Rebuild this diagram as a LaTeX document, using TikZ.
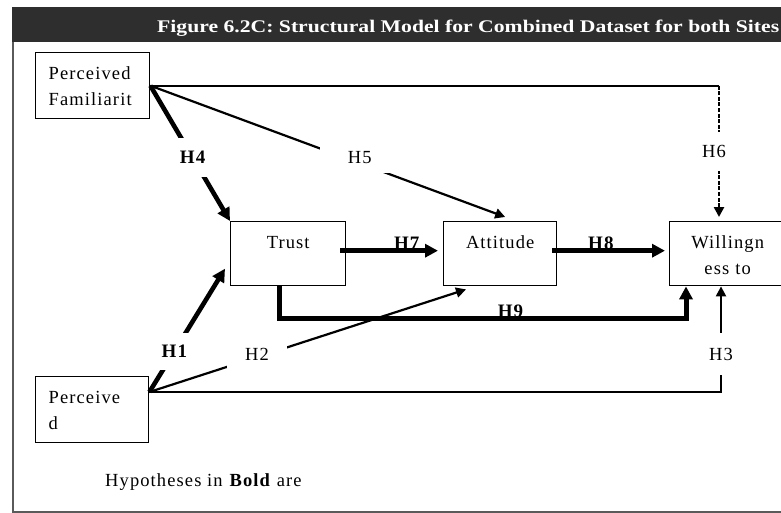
\documentclass[tikz,border=0pt]{standalone}
\usepackage{graphicx}
\usepackage{fontspec}
\setmainfont{Liberation Serif}[LetterSpace=6]
\newfontfamily\headfont{Liberation Serif}
\usetikzlibrary{arrows.meta}
\definecolor{barcol}{HTML}{2E2E2E}
\definecolor{framecol}{HTML}{5A5A5A}
\hyphenpenalty=10000
\exhyphenpenalty=10000

\begin{document}
\begin{tikzpicture}[x=1pt,y=-1pt,
  box/.style={draw, line width=1.4pt, anchor=north west, inner ysep=0pt,
    text height=27pt, font=\fontsize{18.5}{26}\selectfont},
  leftbox/.style={box, align=left, inner xsep=13pt, text width=#1},
  midbox/.style={box, align=center, inner xsep=4pt, text width=#1},
  wire/.style={line width=2.2pt},
  boldwire/.style={line width=4.6pt},
  tipwire/.style={-{Triangle[length=10pt,width=10pt]}},
  tipbold/.style={-{Triangle[length=13pt,width=13pt]}},
  hlab/.style={fill=white, inner xsep=4pt, inner ysep=12pt, font=\fontsize{18.5}{21}\selectfont},
  hlabbold/.style={hlab, font=\fontsize{19}{21}\selectfont\bfseries},
  onlinebold/.style={inner sep=0pt, anchor=base, font=\fontsize{19}{21}\selectfont\bfseries},
]
\useasboundingbox (0,0) rectangle (781,513);
\clip (0,0) rectangle (781,513);

% heading bar and frame
\fill[barcol] (12,7) rectangle (785,42);
\node[anchor=base west, inner sep=0pt, text=white] (title) at (157,33)
  {\resizebox{622pt}{12.5pt}{\headfont\bfseries Figure 6.2C: Structural Model for Combined Dataset for both Sites}};
\draw[framecol, line width=1.5pt] (13,42) -- (13,512) -- (785,512);

% constructs
\node[leftbox=88pt, text depth=39pt] (pf) at (35,52) {Perceived\\Familiarit};
\node[leftbox=87pt, text depth=39pt] (pd) at (35,376) {Perceive\\d};
\node[midbox=107pt, text depth=37pt] (trust) at (230,221) {Trust};
\node[midbox=105pt, text depth=37pt] (att) at (443,221) {Attitude};
\node[midbox=108pt, text depth=37pt] (will) at (669,221) {Willingn\\ess to};

% attachment points
\coordinate (pdo) at ([yshift=-16pt]pd.north east);
\coordinate (w6) at ([xshift=50pt,yshift=4pt]will.north west);
\coordinate (t9) at ([xshift=-8.5pt]trust.south);
\coordinate (w9) at ([xshift=17pt]will.south west);
\coordinate (c9) at ([yshift=-32pt]w9);
\coordinate (w3) at ([xshift=52pt]will.south west);

% paths from perceived familiarity
\draw[boldwire, tipbold] (pf.east) -- (trust.north west)
  node[pos=0.53, hlabbold, inner ysep=13pt] (l4) {H4};
\draw[wire, tipwire] (pf.east) -- ([xshift=5pt,yshift=4pt]att.north)
  node[pos=0.59, hlab, yshift=6pt, inner xsep=28pt, inner ysep=10pt] (l5) {H5};
\draw[wire] (pf.east) -- (pf.east -| w6);
\draw[line width=2.6pt, dash pattern=on 4pt off 1.6pt, tipwire] (pf.east -| w6) -- (w6)
  node[midway, hlab, xshift=-5pt, inner ysep=13pt] (l6) {H6};

% chain trust -> attitude -> willingness
\draw[boldwire, tipbold] ([xshift=-6pt,yshift=3pt]trust.east) -- ([xshift=-5pt,yshift=3pt]att.west)
  node[pos=0.68, onlinebold, behind path, yshift=1.5pt] (l7) {H7};
\draw[boldwire, tipbold] ([xshift=-5pt,yshift=3pt]att.east) -- ([xshift=-4pt,yshift=3pt]will.west)
  node[pos=0.43, onlinebold, behind path, yshift=1.5pt] (l8) {H8};
\draw[line width=5pt, tipbold] (t9) |- (c9)
  node[pos=0.784, onlinebold, behind path, yshift=0.5pt] (l9) {H9} -- (w9);

% paths from the lower construct
\draw[boldwire, tipbold] (pdo) -- ([xshift=-5pt,yshift=-15pt]trust.west)
  node[pos=0.33, hlabbold, inner ysep=12pt] (l1) {H1};
\draw[wire, tipwire] (pdo) -- ([xshift=23pt,yshift=-3pt]att.south west)
  node[pos=0.34, hlab, yshift=3pt, inner xsep=18pt, inner ysep=8pt] (l2) {H2};
\draw[wire, tipwire] (pdo) -| (w3)
  node[pos=0.68, hlab, inner ysep=15pt] (l3) {H3};

% footnote
\node[anchor=base west, inner sep=0pt, font=\fontsize{18.5}{21}\selectfont] (note) at (105,486)
  {Hypotheses in \textbf{Bold} are};
\end{tikzpicture}
\end{document}
